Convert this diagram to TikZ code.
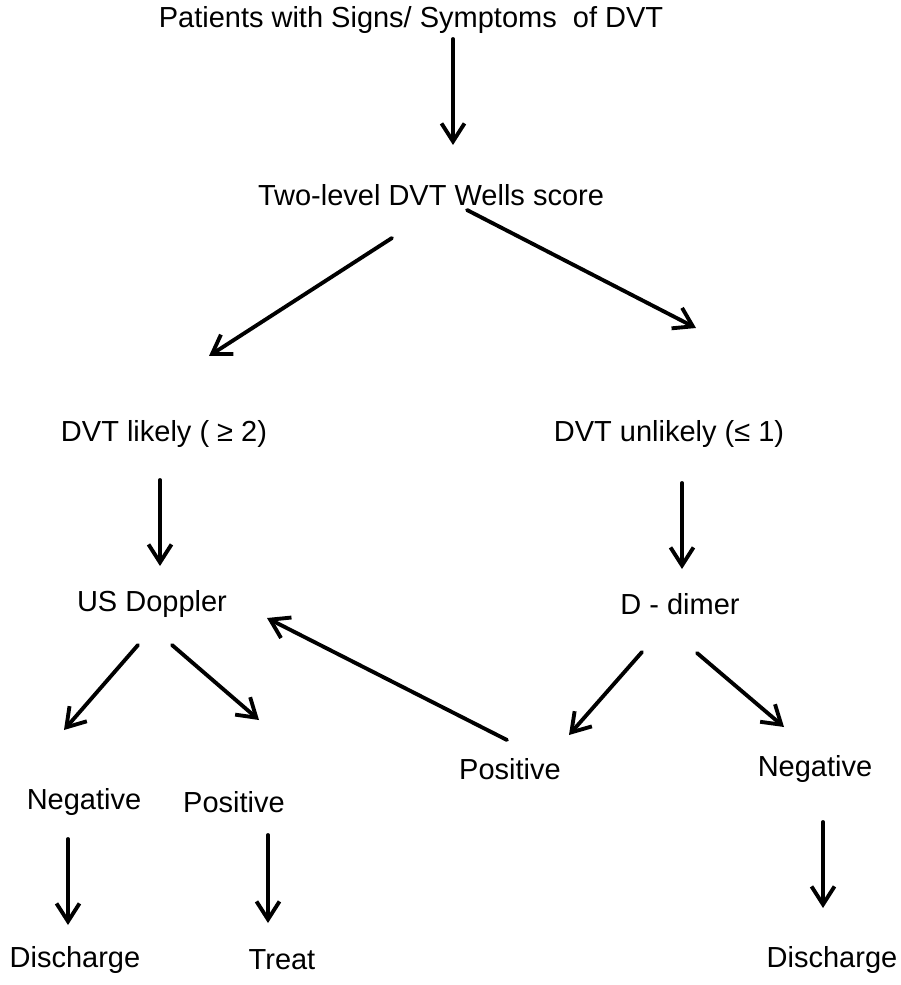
\documentclass[tikz,border=0pt]{standalone}
\usepackage{fontspec}
\setmainfont{Liberation Sans}
\usetikzlibrary{arrows.meta}

\begin{document}
\begin{tikzpicture}
		[x=1cm, y=1cm,
		 lbl/.style={text centered, inner sep=0pt, font=\fontsize{16.5}{20}\selectfont},
		 flow/.style={-{Straight Barb[length=3.6mm, width=4.6mm]}, line width=2.2pt, line cap=round}]
	
		\useasboundingbox (0,0) rectangle (18,-19.7);
	
		% nodes %
		\node[lbl] (pat) at (8.22,-0.4) {Patients with Signs/ Symptoms\ \ of DVT};
		\node[lbl] (wells) at (8.62,-3.9) {Two-level DVT Wells score};
		\node[lbl] (likely) at (3.28,-8.68) {DVT likely ( ≥ 2)};
		\node[lbl] (unlikely) at (13.38,-8.68) {DVT unlikely (≤ 1)};
		\node[lbl] (us) at (3.04,-12.08) {US Doppler};
		\node[lbl] (dd) at (13.6,-12.08) {D - dimer};
		\node[lbl] (posR) at (10.2,-15.38) {Positive};
		\node[lbl] (negR) at (16.3,-15.38) {Negative};
		\node[lbl] (negL) at (1.68,-16.04) {Negative};
		\node[lbl] (posL) at (4.68,-16.04) {Positive};
		\node[lbl] (disL) at (1.5,-19.2) {Discharge};
		\node[lbl] (treat) at (5.64,-19.2) {Treat};
		\node[lbl] (disR) at (16.64,-19.2) {Discharge};
	
		% arrow ends %
		\coordinate (pat-s) at (9.06,-0.78);  \coordinate (wells-n) at (9.06,-2.9);
		\coordinate (wells-sw) at (7.84,-4.76); \coordinate (likely-n) at (4.18,-7.12);
		\coordinate (wells-se) at (9.34,-4.2); \coordinate (unlikely-n) at (13.92,-6.56);
		\coordinate (likely-s) at (3.2,-9.6); \coordinate (us-n) at (3.2,-11.32);
		\coordinate (unlikely-s) at (13.64,-9.66); \coordinate (dd-n) at (13.64,-11.38);
		\coordinate (posR-n) at (10.14,-14.8); \coordinate (us-e) at (5.34,-12.36);
		\coordinate (us-sw) at (2.76,-12.9); \coordinate (negL-n) at (1.28,-14.6);
		\coordinate (us-se) at (3.44,-12.9); \coordinate (posL-n) at (5.18,-14.4);
		\coordinate (dd-sw) at (12.84,-13.04); \coordinate (posR-ne) at (11.38,-14.7);
		\coordinate (dd-se) at (13.94,-13.06); \coordinate (negR-n) at (15.68,-14.54);
		\coordinate (negL-s) at (1.36,-16.78); \coordinate (disL-n) at (1.36,-18.5);
		\coordinate (posL-s) at (5.36,-16.7); \coordinate (treat-n) at (5.36,-18.46);
		\coordinate (negR-s) at (16.46,-16.44); \coordinate (disR-n) at (16.46,-18.16);
	
		% edges %
		\draw[flow] (pat-s) -- (wells-n);
		\draw[flow] (wells-sw) -- (likely-n);
		\draw[flow] (wells-se) -- (unlikely-n);
		\draw[flow] (likely-s) -- (us-n);
		\draw[flow] (unlikely-s) -- (dd-n);
		\draw[flow] (posR-n) -- (us-e);
		\draw[flow] (us-sw) -- (negL-n);
		\draw[flow] (us-se) -- (posL-n);
		\draw[flow] (dd-sw) -- (posR-ne);
		\draw[flow] (dd-se) -- (negR-n);
		\draw[flow] (negL-s) -- (disL-n);
		\draw[flow] (posL-s) -- (treat-n);
		\draw[flow] (negR-s) -- (disR-n);
		
\end{tikzpicture}
\end{document}
